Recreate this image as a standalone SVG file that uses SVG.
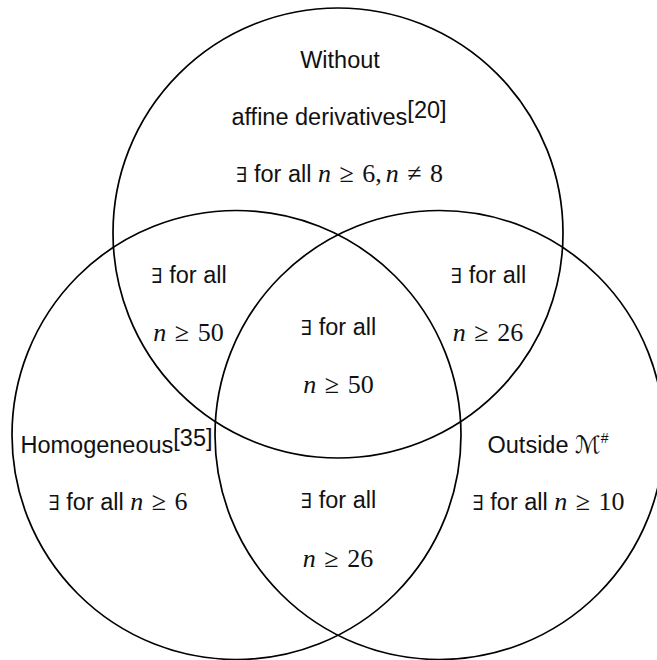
<svg xmlns="http://www.w3.org/2000/svg" width="657" height="660" viewBox="0 0 657 660">
<style>
.c{fill:none;stroke:#000;stroke-width:1.7}
.s{font-family:"Liberation Sans",Arial,sans-serif;font-size:23.5px;fill:#111}
.m{font-family:"Liberation Serif","Times New Roman",serif;font-size:26px}
.i{font-style:italic}
.e{font-family:"DejaVu Serif",serif;font-size:21px}
.cal{font-family:"DejaVu Sans",sans-serif;font-style:italic;font-size:24px}
.hash{font-size:14px}
</style>
<rect width="657" height="660" fill="#fff"/>
<g id="circles">
<circle id="top" class="c" cx="338" cy="233" r="225"/>
<circle id="left" class="c" cx="236.5" cy="435" r="224.5"/>
<circle id="right" class="c" cx="439.5" cy="435" r="224.5"/>
</g>
<g id="top-label" class="s" text-anchor="middle">
<text x="340" y="68">Without</text>
<text x="339" y="125">affine derivatives<tspan dy="-7">[20]</tspan></text>
<text x="339.5" y="182"><tspan class="e">∃</tspan> for all <tspan class="m i">n</tspan><tspan class="m" dx="2"> ≥ </tspan><tspan class="m" dx="2">6,</tspan><tspan class="m i" dx="4">n</tspan><tspan class="m" dx="2"> ≠ </tspan><tspan class="m" dx="2">8</tspan></text>
</g>
<g id="top-left" class="s" text-anchor="middle">
<text x="189" y="283"><tspan class="e">∃</tspan> for all</text>
<text x="188.5" y="341"><tspan class="m i">n</tspan><tspan class="m" dx="2"> ≥ </tspan><tspan class="m" dx="2">50</tspan></text>
</g>
<g id="top-right" class="s" text-anchor="middle">
<text x="488.5" y="283"><tspan class="e">∃</tspan> for all</text>
<text x="488" y="341"><tspan class="m i">n</tspan><tspan class="m" dx="2"> ≥ </tspan><tspan class="m" dx="2">26</tspan></text>
</g>
<g id="center" class="s" text-anchor="middle">
<text x="338.5" y="335"><tspan class="e">∃</tspan> for all</text>
<text x="338.5" y="393"><tspan class="m i">n</tspan><tspan class="m" dx="2"> ≥ </tspan><tspan class="m" dx="2">50</tspan></text>
</g>
<g id="left-label" class="s" text-anchor="middle">
<text x="116.5" y="453">Homogeneous<tspan dy="-7">[35]</tspan></text>
<text x="118" y="510"><tspan class="e">∃</tspan> for all <tspan class="m i">n</tspan><tspan class="m" dx="2"> ≥ </tspan><tspan class="m" dx="2">6</tspan></text>
</g>
<g id="right-label" class="s" text-anchor="middle">
<text x="548" y="453">Outside <tspan class="cal">ℳ</tspan><tspan class="hash" dy="-10">#</tspan></text>
<text x="548.5" y="510"><tspan class="e">∃</tspan> for all <tspan class="m i">n</tspan><tspan class="m" dx="2"> ≥ </tspan><tspan class="m" dx="2">10</tspan></text>
</g>
<g id="bottom" class="s" text-anchor="middle">
<text x="338.5" y="508"><tspan class="e">∃</tspan> for all</text>
<text x="338" y="567"><tspan class="m i">n</tspan><tspan class="m" dx="2"> ≥ </tspan><tspan class="m" dx="2">26</tspan></text>
</g>
</svg>
